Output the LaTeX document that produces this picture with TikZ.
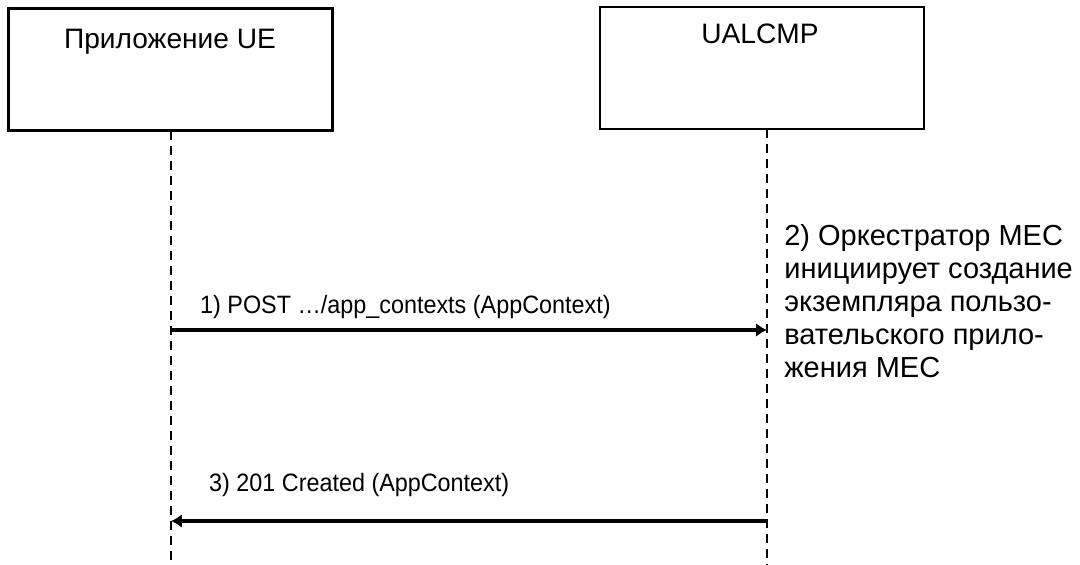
\documentclass[tikz,border=0pt]{standalone}
\usepackage{fontspec}
\setmainfont{Liberation Sans}
\usetikzlibrary{positioning,calc,arrows.meta}

\newcommand{\msgtext}[1]{\scalebox{0.93}[1]{#1}}

\begin{document}
\begin{tikzpicture}[x=0.02cm,y=-0.02cm,
		title/.style={font=\fontsize{16}{19}\selectfont, anchor=base},
		label/.style={font=\fontsize{14.3}{17}\selectfont, anchor=base west},
		box/.style={draw, line width=1.2pt, minimum width=6.48cm, minimum height=2.44cm, inner sep=0pt},
		life/.style={dash pattern=on 0.18cm off 0.12cm, line width=0.8pt},
		msg/.style={->,>={Latex[length=0.22cm,width=0.28cm]}, line width=1.8pt}]
	
	\useasboundingbox (0,0) rectangle (1080,565);
	
	% entities
	\node[box] (ue) at (170.5,69.5) {};
	\node[box] (ualcmp) at (762,68) {};
	\node[title] (uetitle) at (170,48) {Приложение UE};
	\node[title] (ualcmptitle) at (760,43) {UALCMP};
	
	% lifelines
	\coordinate (uetop) at (171,131);
	\coordinate (uebot) at (171,565);
	\coordinate (ualtop) at (767,129);
	\coordinate (ualbot) at (767,565);
	\draw[life] (uetop) -- (uebot);
	\draw[life] (ualtop) -- (ualbot);
	
	% messages
	\coordinate (m1a) at (uetop |- 0,330);
	\coordinate (m1b) at (ualtop |- 0,330);
	\coordinate (m3a) at (ualtop |- 0,521);
	\coordinate (m3b) at (uetop |- 0,521);
	\draw[msg] (m1a) -- (m1b);
	\draw[msg] (m3a) -- (m3b);
	
	\node[label] (msg1) at (194,313) {\msgtext{1) POST …/app\_contexts (AppContext)}};
	\node[label] (msg3) at (203,491) {\msgtext{3) 201 Created (AppContext)}};
	
	\node[anchor=north west, align=left, inner sep=0pt, font=\fontsize{16.5}{18.8}\selectfont] (step2) at (784,224)
		{2) Оркестратор MEC\\инициирует создание\\экземпляра пользо-\\вательского прило-\\жения MEC};
	
\end{tikzpicture}
\end{document}
